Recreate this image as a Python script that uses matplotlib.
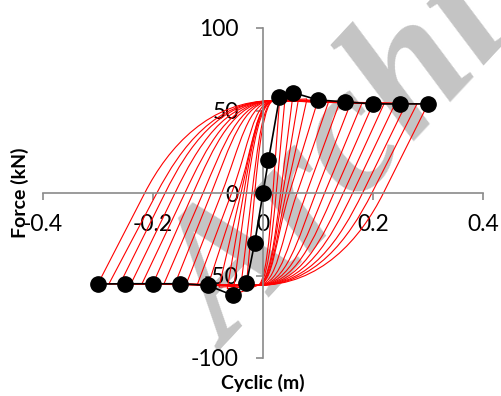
import matplotlib
matplotlib.use("Agg")
import matplotlib.pyplot as plt
from matplotlib.path import Path
from matplotlib.patches import PathPatch

# cyclic loops: displacement amplitude (m), peak forces (kN) and zero-force crossings (m)
amplitudes = [0.30, 0.28, 0.26, 0.24, 0.22, 0.20, 0.18, 0.16, 0.14, 0.12, 0.10, 0.08, 0.065, 0.055, 0.04, 0.03]
peak_pos = [54, 54, 54, 54, 54, 54, 54.5, 55, 55.5, 56, 56.4, 57, 58, 61, 57, 56]
peak_neg = [-55, -55, -55, -55, -55, -55, -55, -55, -55.5, -56, -56, -57, -58, -62, -56, -55]
cross_down = [0.219, 0.198, 0.181, 0.163, 0.146, 0.129, 0.112, 0.096, 0.079, 0.062, 0.048, 0.042, 0.036, 0.032, 0.024, 0.018]
cross_up = [-0.215, -0.193, -0.178, -0.160, -0.142, -0.127, -0.109, -0.094, -0.075, -0.057, -0.045, -0.040, -0.035, -0.030, -0.020, -0.015]

# where the reloading branches flatten out onto the yield plateaus
upper_yield = (0.02, 56)
lower_yield = (-0.01, -56)

# backbone (envelope) points
backbone_x = [-0.30, -0.25, -0.20, -0.15, -0.10, -0.055, -0.03, -0.015, 0.0, 0.01, 0.03, 0.055, 0.10, 0.15, 0.20, 0.25, 0.30]
backbone_y = [-55.2, -55, -55, -55, -56, -62, -54.7, -30, 0, 20, 58, 60.8, 56.4, 55.2, 54, 54, 54]

x_ticks = [-0.4, -0.2, 0, 0.2, 0.4]
x_ticklabels = ["-0.4", "-0.2", "0", "0.2", "0.4"]
y_ticks = [-100, -50, 0, 50, 100]
y_ticklabels = ["-100", "-50", "0", "50", "100"]

AXIS_GREY = "#8a8a8a"
plt.rcParams["font.family"] = ["Lato", "DejaVu Sans"]


def branch(x0, y0, xc, end):
    # straight unloading down to the zero crossing, then a smooth bend into the plateau
    xe, ye = end
    dxdf = (x0 - xc) / y0
    p1 = (xc + 0.5 * ye * dxdf, 0.5 * ye)
    p2 = (xe + 0.5 * (xc - xe), ye)
    verts = [(xc, 0), p1, p2, (xe, ye)]
    codes = [Path.LINETO, Path.CURVE4, Path.CURVE4, Path.CURVE4]
    return verts, codes


fig = plt.figure(figsize=(5.02, 3.96), dpi=100)
ax = fig.add_axes([43 / 502, 38 / 396, 440 / 502, 330 / 396])

for a, fp, fn, cd, cu in zip(amplitudes, peak_pos, peak_neg, cross_down, cross_up):
    verts = [(a, fp)]
    codes = [Path.MOVETO]
    v, c = branch(a, fp, cd, lower_yield)
    verts += v
    codes += c
    verts.append((-a, fn))
    codes.append(Path.LINETO)
    v, c = branch(-a, fn, cu, upper_yield)
    verts += v
    codes += c
    verts.append((a, fp))
    codes.append(Path.LINETO)
    ax.add_patch(PathPatch(Path(verts, codes), fill=False, edgecolor="red",
                           lw=0.8, zorder=2))

ax.plot(backbone_x, backbone_y, color="black", lw=1.2, marker="o",
        markersize=11, zorder=3)

ax.set_xlim(-0.4, 0.4)
ax.set_ylim(-100, 100)
for side in ["top", "right"]:
    ax.spines[side].set_visible(False)
for side in ["left", "bottom"]:
    ax.spines[side].set_position(("data", 0))
    ax.spines[side].set_color(AXIS_GREY)
    ax.spines[side].set_linewidth(1.2)

ax.set_xticks(x_ticks)
ax.set_xticklabels(x_ticklabels)
ax.set_yticks(y_ticks)
ax.set_yticklabels(y_ticklabels)
ax.tick_params(axis="x", direction="out", length=5, width=1.2, color=AXIS_GREY,
               pad=10, labelsize=16.5, labelcolor="black")
ax.tick_params(axis="y", direction="out", length=5, width=1.2, color=AXIS_GREY,
               pad=12.5, labelsize=16.5, labelcolor="black")
for lbl in ax.get_xticklabels() + ax.get_yticklabels():
    lbl.set_zorder(4)

fig.text(263 / 502, 1 - 383 / 396, "Cyclic (m)", ha="center", va="center",
         fontsize=14, fontweight="bold")
fig.text(20 / 502, 1 - 193 / 396, "Force (kN)", ha="center", va="center",
         rotation=90, fontsize=14, fontweight="bold")

# watermark lettering behind the curves
ax.text(228 / 502, 1 - 352 / 396, "Archi", transform=fig.transFigure,
        rotation=47, rotation_mode="anchor", ha="left", va="baseline",
        fontsize=132, color="#c4c4c4", style="italic", fontweight="bold",
        family="Liberation Serif", zorder=0.5, clip_on=False)

fig.savefig("out.png", dpi=100)
